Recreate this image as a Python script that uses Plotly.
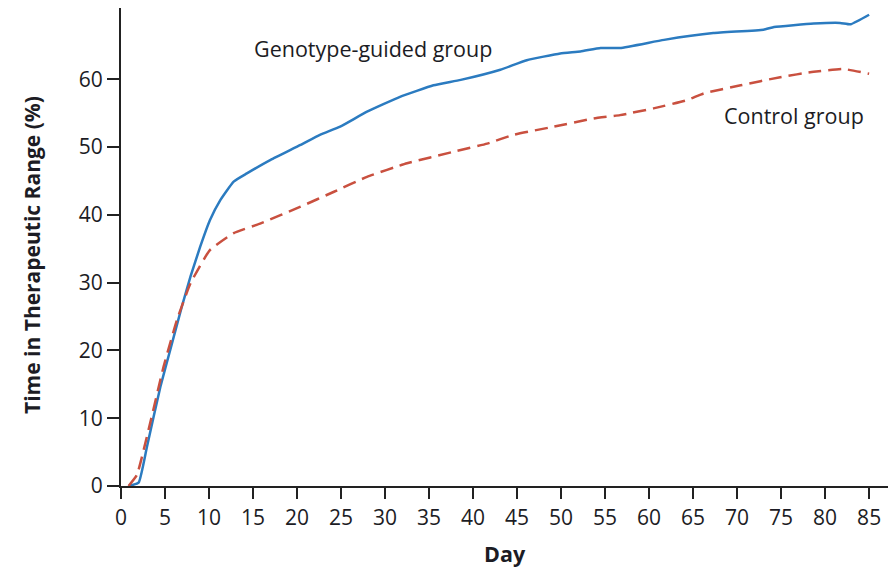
import plotly.graph_objects as go

# Genotype-guided group (blue, solid)
geno_day = [0.86, 2.0, 2.95, 4.47, 5.6, 6.9, 7.9, 9.0, 10.1, 11.3, 12.8, 14.3, 17.0, 20.4, 22.6, 24.9, 27.95,
            31.7, 35.5, 38.6, 43.1, 46.1, 49.9, 52.2, 54.5, 56.7, 61.7, 67.3, 73.0, 74.2, 78.7, 81.7, 82.9, 85.0]
geno_val = [0.0, 0.5, 5.8, 14.6, 20.1, 26.4, 30.9, 35.3, 39.2, 42.2, 44.9, 46.1, 48.1, 50.3, 51.8, 53.0, 55.2,
            57.4, 59.1, 59.9, 61.4, 62.8, 63.8, 64.1, 64.6, 64.6, 65.8, 66.8, 67.3, 67.7, 68.2, 68.3, 68.1, 69.5]

# Control group (red, dashed)
ctrl_day = [0.86, 1.8, 3.3, 4.84, 6.36, 7.9, 10.1, 12.8, 15.8, 20.4, 24.2, 27.95, 32.5, 37.8, 41.6, 44.6,
            49.2, 53.7, 56.7, 60.5, 64.3, 66.2, 70.4, 74.9, 78.7, 82.1, 85.0]
ctrl_val = [0.0, 1.6, 9.2, 17.6, 24.5, 29.9, 34.8, 37.3, 38.7, 41.2, 43.4, 45.6, 47.6, 49.3, 50.5, 51.8,
            53.0, 54.2, 54.7, 55.7, 56.9, 57.9, 59.1, 60.3, 61.1, 61.5, 60.8]

x_ticks = list(range(0, 90, 5))
y_ticks = list(range(0, 70, 10))

FONT = "Open Sans"
TXT = "#1c1c24"

fig = go.Figure()
fig.add_trace(go.Scatter(x=geno_day, y=geno_val, mode="lines",
                         line=dict(color="#2b7bc0", width=2.5, shape="spline", smoothing=0.4),
                         name="Genotype-guided group", showlegend=False))
fig.add_trace(go.Scatter(x=ctrl_day, y=ctrl_val, mode="lines",
                         line=dict(color="#c9503f", width=2.5, dash="13px,7px", shape="spline", smoothing=0.4),
                         name="Control group", showlegend=False))

fig.add_annotation(x=14.9, y=64.6, text="Genotype-guided group", showarrow=False,
                   xanchor="left", yanchor="middle", font=dict(family=FONT, size=21.5, color=TXT))
fig.add_annotation(x=68.3, y=54.6, text="Control group", showarrow=False,
                   xanchor="left", yanchor="middle", font=dict(family=FONT, size=21.5, color=TXT))

# The page places the figure 8 px in from the top-left corner, so the figure is
# 888x562 and pixel positions below are page positions minus 8.
OFF = 8
W, H = 896 - OFF, 570 - OFF
L, R, T, B = 121 - OFF, 4, 0, 84

# axis titles (page pixel positions)
fig.add_annotation(x=32 - OFF, y=255 - OFF, xref="paper", yref="paper",
                   text="<b>Time in Therapeutic Range (%)</b>",
                   showarrow=False, textangle=-90, xanchor="center", yanchor="middle",
                   font=dict(family=FONT, size=21, color=TXT))
fig.add_annotation(x=505 - OFF, y=553 - OFF, xref="paper", yref="paper", text="<b>Day</b>",
                   showarrow=False, xanchor="center", yanchor="middle",
                   font=dict(family=FONT, size=21.5, color=TXT))

for ann in fig.layout.annotations[2:]:
    ann.x = (ann.x - L) / (W - L - R)
    ann.y = (H - B - ann.y) / (H - T - B)

fig.update_layout(
    width=W, height=H,
    margin=dict(l=L, r=R, t=T, b=B, autoexpand=False),
    paper_bgcolor="white", plot_bgcolor="white",
    font=dict(family=FONT, size=21, color=TXT),
    xaxis=dict(range=[0, 87.6], tickvals=x_ticks, ticks="outside", ticklen=11, tickwidth=2,
               tickcolor="#222", showline=True, linecolor="#222", linewidth=2, showgrid=False,
               zeroline=False, automargin=False, ticklabelstandoff=1),
    yaxis=dict(range=[0, 70.5], tickvals=y_ticks, ticks="outside", ticklen=12, tickwidth=2,
               tickcolor="#222", showline=True, linecolor="#222", linewidth=2, showgrid=False,
               zeroline=False, automargin=False),
)

fig.write_html("out.html")
